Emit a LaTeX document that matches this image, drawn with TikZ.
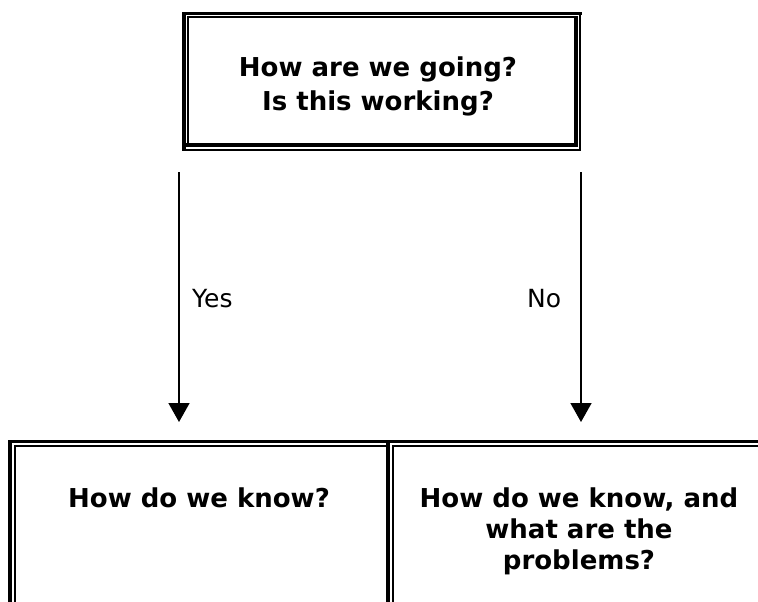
\documentclass[tikz,border=0pt]{standalone}
\usepackage{fontspec}
\setmainfont{DejaVu Sans}
\usetikzlibrary{arrows.meta}
\begin{document}
\begin{tikzpicture}[x=1pt,y=-1pt,
  thickrule/.style={line width=3.3pt, line cap=rect},
  thinrule/.style={line width=2pt, line cap=rect},
  boxtext/.style={font=\bfseries\fontsize{26}{31}\selectfont, align=center, inner sep=0pt, anchor=north},
  flow/.style={line width=1.6pt, -{Triangle[length=19pt,width=21pt]}},
  choice/.style={font=\fontsize{25}{30}\selectfont, inner sep=0pt, anchor=base west}]
% page and clipping frame
\fill[white] (0,0) rectangle (758,602);
\clip (0,0) rectangle (758,602);

% question box: thick-thin double frame (thick rule on the top/left of each pair)
\draw[thickrule] (184,149.5) -- (184,13.5) -- (580,13.5);
\draw[thinrule]  (184,149.5) -- (580,149.5) -- (580,13.5);
\draw[thinrule]  (188,145) -- (188,17.5) -- (576,17.5);
\draw[thickrule] (188,145) -- (576,145) -- (576,17.5);

% answer table, running off the right and bottom of the page
\draw[thickrule] (10,800) -- (10,441.5) -- (800,441.5);
\draw[thickrule] (388,441.5) -- (388,800);
\draw[thinrule] (14.5,800) -- (14.5,445.5) -- (385.7,445.5);
\draw[thinrule] (392.5,800) -- (392.5,445.5) -- (800,445.5);

% texts
\node[boxtext, font=\bfseries\fontsize{26}{34}\selectfont] (top) at (378,57) {How are we going?\\Is this working?};
\node[boxtext] (yesbox) at (199,487.5) {How do we know?};
\node[boxtext] (nobox) at (579,487.5) {How do we know, and\\what are the\\problems?};

% branches
\coordinate (yesfrom) at (179,172);
\coordinate (yesto) at (179,422);
\coordinate (nofrom) at (581,172);
\coordinate (noto) at (581,422);
\draw[flow] (yesfrom) -- (yesto);
\draw[flow] (nofrom) -- (noto);
\node[choice] (yes) at (192,307) {Yes};
\node[choice] (no) at (527,307) {No};
\end{tikzpicture}
\end{document}
